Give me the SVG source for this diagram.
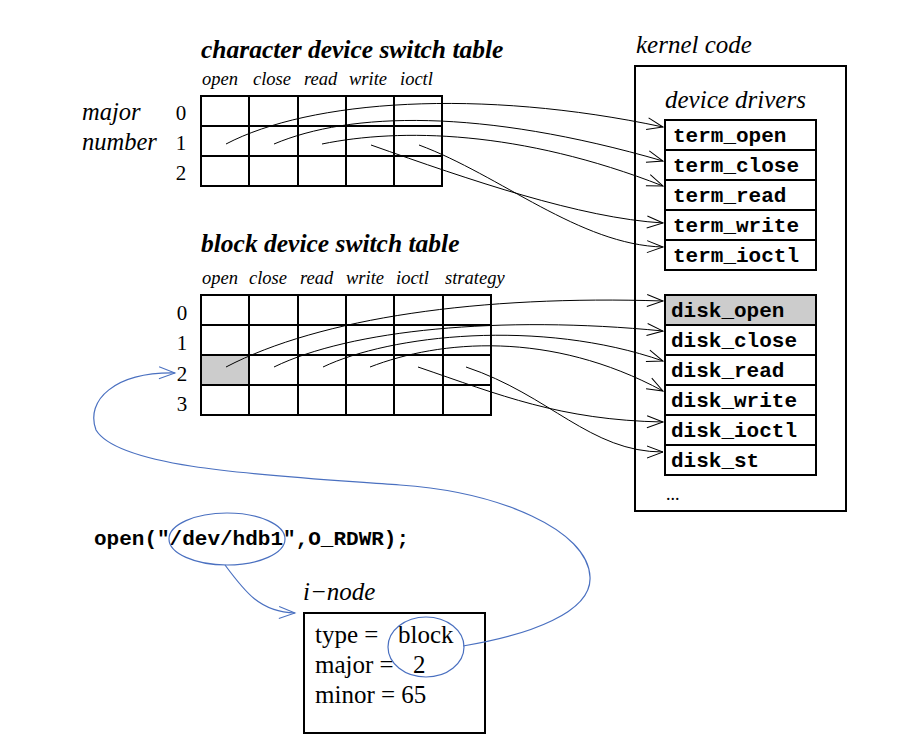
<svg xmlns="http://www.w3.org/2000/svg" width="919" height="749" viewBox="0 0 919 749">
<defs>
<marker id="arr" markerUnits="userSpaceOnUse" markerWidth="20" markerHeight="16" viewBox="-17 -8 19 16" refX="0" refY="0" orient="auto">
<path d="M-16,-6 L0,0 L-16,6" fill="none" stroke="#000" stroke-width="1"/>
</marker>
<marker id="barr" markerUnits="userSpaceOnUse" markerWidth="20" markerHeight="16" viewBox="-17 -8 19 16" refX="0" refY="0" orient="auto">
<path d="M-16,-6 L0,0 L-16,6" fill="none" stroke="#4a70c0" stroke-width="1"/>
</marker>
</defs>
<style>
.title{font-family:"Liberation Serif","Times New Roman",serif;font-weight:bold;font-style:italic;font-size:25.5px;fill:#000}
.col{font-family:"Liberation Serif","Times New Roman",serif;font-style:italic;font-size:18.5px;fill:#000}
.num{font-family:"Liberation Serif","Times New Roman",serif;font-size:21px;fill:#000;text-anchor:middle}
.lab{font-family:"Liberation Serif","Times New Roman",serif;font-style:italic;font-size:24.5px;fill:#000}
.lab2{font-family:"Liberation Serif","Times New Roman",serif;font-style:italic;font-size:25px;fill:#000}
.mono{font-family:"Liberation Mono","Courier New",monospace;font-weight:bold;font-size:21px;fill:#000}
.ser{font-family:"Liberation Serif","Times New Roman",serif;font-size:25px;fill:#000}
.grid{fill:none;stroke:#000;stroke-width:2}
.box{fill:#fff;stroke:#000;stroke-width:2}
.conn{fill:none;stroke:#000;stroke-width:1;marker-end:url(#arr)}
.blue{fill:none;stroke:#4a70c0;stroke-width:1.2}
</style>
<rect width="919" height="749" fill="#fff"/>

<g id="char-table">
<text class="title" x="201" y="58">character device switch table</text>
<text class="col" x="202" y="85">open</text>
<text class="col" x="253" y="85">close</text>
<text class="col" x="304" y="85">read</text>
<text class="col" x="349" y="85">write</text>
<text class="col" x="400" y="85">ioctl</text>
<text class="lab" x="82" y="120">major</text>
<text class="lab" x="82" y="150">number</text>
<text class="num" x="181" y="120">0</text>
<text class="num" x="181" y="150">1</text>
<text class="num" x="181" y="180">2</text>
<rect class="grid" x="201" y="96" width="241" height="90"/>
<path class="grid" d="M249,96V186M298,96V186M346,96V186M394,96V186M201,126H442M201,156H442"/>
</g>

<g id="block-table">
<text class="title" x="201" y="252">block device switch table</text>
<text class="col" x="202" y="284">open</text>
<text class="col" x="249" y="284">close</text>
<text class="col" x="300" y="284">read</text>
<text class="col" x="346" y="284">write</text>
<text class="col" x="396" y="284">ioctl</text>
<text class="col" x="445" y="284">strategy</text>
<text class="num" x="182" y="320">0</text>
<text class="num" x="182" y="350">1</text>
<text class="num" x="182" y="381">2</text>
<text class="num" x="182" y="411">3</text>
<rect x="201" y="355" width="48" height="30" fill="#cccccc"/>
<rect class="grid" x="201" y="295" width="290" height="120"/>
<path class="grid" d="M249,295V415M298,295V415M346,295V415M394,295V415M443,295V415M201,325H491M201,355H491M201,385H491"/>
</g>

<g id="kernel-code">
<text class="lab2" x="636" y="53">kernel code</text>
<rect class="grid" x="635" y="66" width="211" height="445"/>
<text class="lab2" x="665" y="108">device drivers</text>
<text x="666" y="500" style="font-family:'Liberation Serif',serif;font-size:18px">...</text>
</g>

<g id="term_open"><rect class="box" x="665" y="120" width="151" height="30"/><text class="mono" x="673" y="142">term_open</text></g>
<g id="term_close"><rect class="box" x="665" y="150" width="151" height="30"/><text class="mono" x="673" y="172">term_close</text></g>
<g id="term_read"><rect class="box" x="665" y="180" width="151" height="30"/><text class="mono" x="673" y="202">term_read</text></g>
<g id="term_write"><rect class="box" x="665" y="210" width="151" height="30"/><text class="mono" x="673" y="232">term_write</text></g>
<g id="term_ioctl"><rect class="box" x="665" y="240" width="151" height="30"/><text class="mono" x="673" y="262">term_ioctl</text></g>

<g id="disk_open"><rect class="box" x="665" y="295" width="151" height="30" style="fill:#cccccc"/><text class="mono" x="671" y="317">disk_open</text></g>
<g id="disk_close"><rect class="box" x="665" y="325" width="151" height="30"/><text class="mono" x="671" y="347">disk_close</text></g>
<g id="disk_read"><rect class="box" x="665" y="355" width="151" height="30"/><text class="mono" x="671" y="377">disk_read</text></g>
<g id="disk_write"><rect class="box" x="665" y="385" width="151" height="30"/><text class="mono" x="671" y="407">disk_write</text></g>
<g id="disk_ioctl"><rect class="box" x="665" y="415" width="151" height="30"/><text class="mono" x="671" y="437">disk_ioctl</text></g>
<g id="disk_st"><rect class="box" x="665" y="445" width="151" height="30"/><text class="mono" x="671" y="467">disk_st</text></g>

<g id="open-call">
<text class="mono" x="94" y="545">open("/dev/hdb1",O_RDWR);</text>
</g>

<g id="inode">
<text class="lab2" x="303" y="600">i−node</text>
<rect class="grid" x="304" y="613" width="181" height="120"/>
<text class="ser" x="315" y="643">type =</text>
<text class="ser" x="398" y="643">block</text>
<text class="ser" x="315" y="673">major =</text>
<text class="ser" x="413" y="673">2</text>
<text class="ser" x="315" y="703">minor = 65</text>
</g>

<g id="connectors">
<path class="conn" d="M226,144 C310,100 480,88 663,127"/>
<path class="conn" d="M274,144 C350,112 480,108 663,161"/>
<path class="conn" d="M322,144 C400,128 520,130 663,186"/>
<path class="conn" d="M371,145 C470,180 580,218 663,223"/>
<path class="conn" d="M419,145 C500,175 580,245 663,247"/>

<path class="conn" d="M226,367 C320,318 480,295 663,301"/>
<path class="conn" d="M274,367 C350,330 500,315 663,331"/>
<path class="conn" d="M323,367 C390,335 540,318 663,361"/>
<path class="conn" d="M370,367 C440,340 550,330 663,391"/>
<path class="conn" d="M418,367 C500,395 560,420 663,422"/>
<path class="conn" d="M466,367 C550,395 590,452 663,452"/>

<ellipse class="blue" cx="227" cy="539" rx="58" ry="26"/>
<path class="blue" d="M225,565 C245,592 260,612 295,613" marker-end="url(#barr)"/>
<ellipse class="blue" cx="426" cy="647" rx="38" ry="30"/>
<path class="blue" d="M463,646 C530,635 592,612 590,577 C588,530 500,492 400,485 C280,476 120,470 96,430 C85,400 115,372 175,373" marker-end="url(#barr)"/>
</g>
</svg>
